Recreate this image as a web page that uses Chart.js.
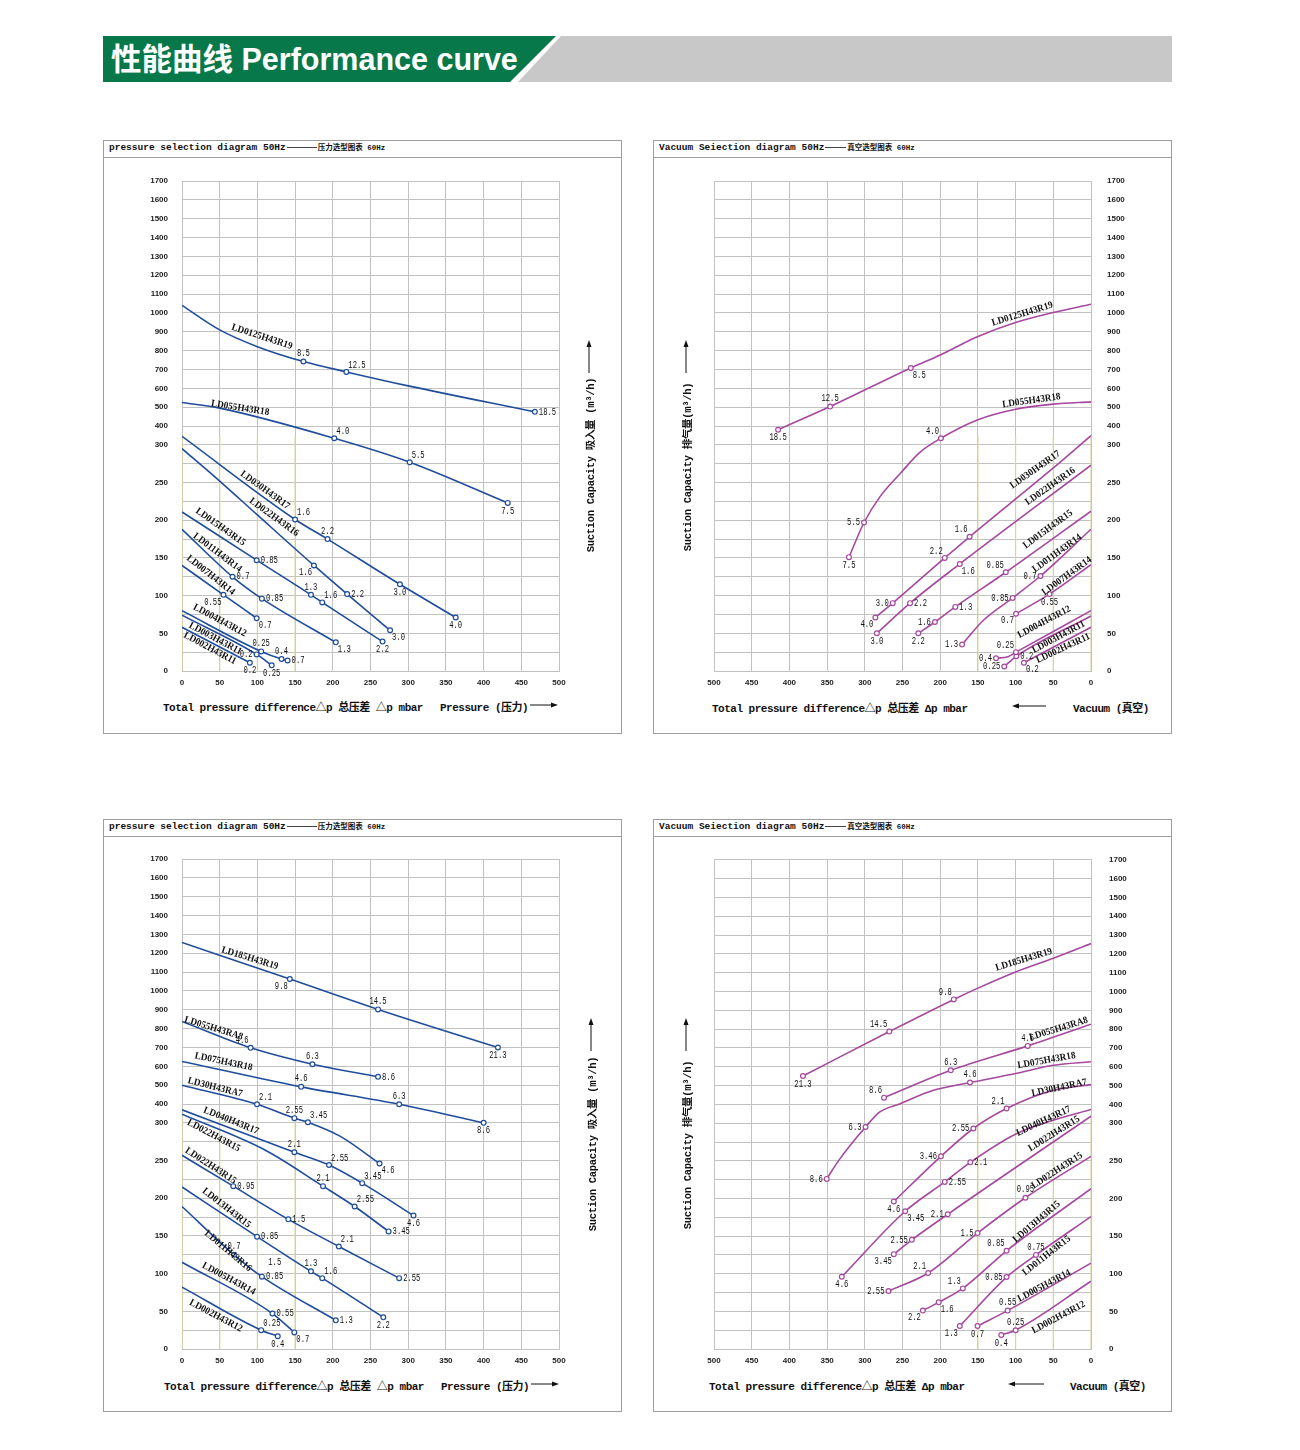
<!DOCTYPE html>
<html lang="zh">
<head>
<meta charset="utf-8">
<title>性能曲线 Performance curve</title>
<script src="https://cdn.jsdelivr.net/npm/chart.js@4"></script>
<style>
  body { margin: 0; background: #fff; }
  #page { position: relative; width: 1300px; height: 1450px; overflow: hidden; color: #111;
          font-family: "Liberation Mono", "Noto Sans CJK SC", monospace; }
  .green { position: absolute; left: 103px; top: 36px; width: 453px; height: 46px; background: #07784a;
           clip-path: polygon(0 0, 100% 0, 407px 100%, 0 100%); }
  .grey { position: absolute; left: 510px; top: 36px; width: 662px; height: 46px; background: #c8c8c8;
          clip-path: polygon(51px 0, 100% 0, 100% 100%, 8px 100%); }
  .banner { position: absolute; left: 111px; top: 35px; line-height: 46px; color: #fff; white-space: nowrap;
            font: bold 30.5px "Liberation Sans", "Noto Sans CJK SC", sans-serif; }
  .panel { position: absolute; width: 519px; height: 594px; box-sizing: border-box; border: 1px solid #9d9d9d; }
  .ptitle { height: 16px; border-bottom: 1px solid #9d9d9d; padding-left: 5px; line-height: 19px; white-space: nowrap;
            overflow: hidden; font: bold 9.5px "Liberation Mono", "Noto Sans CJK SC", monospace; }
  .rule { display: inline-block; width: 30px; border-top: 1px solid #444; vertical-align: middle; margin: 0 1px; }
  .cn { font-size: 7.5px; }
  canvas { position: absolute; }
  .xt { position: absolute; white-space: nowrap; line-height: 14px; letter-spacing: -0.5px;
        font: bold 11px "Liberation Mono", "Noto Sans CJK SC", monospace; }
  .yt { position: absolute; white-space: nowrap; transform: translate(-50%, -50%) rotate(-90deg);
        font: bold 10.5px "Liberation Mono", "Noto Sans CJK SC", monospace; letter-spacing: -0.3px; }
  svg.arr { position: absolute; overflow: visible; }
</style>
</head>
<body>
<div id="page">
  <div class="green"></div>
  <div class="grey"></div>
  <div class="banner">性能曲线 Performance curve</div>

  <div class="panel" style="left:103px;top:140px">
    <div class="ptitle">pressure selection diagram 50Hz<span class="rule"></span><span class="cn">压力选型图表 60Hz</span></div>
  </div>
  <div class="panel" style="left:653px;top:140px">
    <div class="ptitle">Vacuum Seiection diagram 50Hz<span class="rule" style="width:21px"></span><span class="cn">真空选型图表 60Hz</span></div>
  </div>
  <div class="panel" style="left:103px;top:819px;height:593px">
    <div class="ptitle">pressure selection diagram 50Hz<span class="rule"></span><span class="cn">压力选型图表 60Hz</span></div>
  </div>
  <div class="panel" style="left:653px;top:819px;height:593px">
    <div class="ptitle">Vacuum Seiection diagram 50Hz<span class="rule" style="width:21px"></span><span class="cn">真空选型图表 60Hz</span></div>
  </div>

  <canvas id="tl" width="516" height="540" style="left:104px;top:158px"></canvas>
  <canvas id="tr" width="516" height="540" style="left:654px;top:158px"></canvas>
  <canvas id="bl" width="516" height="540" style="left:104px;top:837px"></canvas>
  <canvas id="br" width="516" height="540" style="left:654px;top:837px"></canvas>

  <!-- axis titles -->
  <div class="xt" style="left:163px;top:698px">Total pressure difference△p 总压差  △p mbar</div>
  <div class="xt" style="left:440px;top:698px">Pressure (压力)</div>
  <svg class="arr" style="left:530px;top:701px" width="28" height="8"><line x1="0" y1="4" x2="22" y2="4" stroke="#111" stroke-width="1"/><polygon points="28,4 21,1.5 21,6.5" fill="#111"/></svg>

  <div class="xt" style="left:712px;top:699px">Total pressure difference△p 总压差  Δp mbar</div>
  <svg class="arr" style="left:1012px;top:702px" width="34" height="8"><line x1="6" y1="4" x2="34" y2="4" stroke="#111" stroke-width="1"/><polygon points="0,4 7,1.5 7,6.5" fill="#111"/></svg>
  <div class="xt" style="left:1073px;top:699px">Vacuum (真空)</div>

  <div class="xt" style="left:164px;top:1377px">Total pressure difference△p 总压差  △p mbar</div>
  <div class="xt" style="left:441px;top:1377px">Pressure (压力)</div>
  <svg class="arr" style="left:531px;top:1380px" width="28" height="8"><line x1="0" y1="4" x2="22" y2="4" stroke="#111" stroke-width="1"/><polygon points="28,4 21,1.5 21,6.5" fill="#111"/></svg>

  <div class="xt" style="left:709px;top:1377px">Total pressure difference△p 总压差  Δp mbar</div>
  <svg class="arr" style="left:1008px;top:1380px" width="36" height="8"><line x1="6" y1="4" x2="36" y2="4" stroke="#111" stroke-width="1"/><polygon points="0,4 7,1.5 7,6.5" fill="#111"/></svg>
  <div class="xt" style="left:1070px;top:1377px">Vacuum (真空)</div>

  <div class="yt" style="left:589px;top:465px">Suction Capacity 吸入量 (m³/h)</div>
  <svg class="arr" style="left:585px;top:340px" width="8" height="33"><line x1="4" y1="6" x2="4" y2="33" stroke="#111" stroke-width="1"/><polygon points="4,0 1.5,7 6.5,7" fill="#111"/></svg>
  <div class="yt" style="left:686px;top:467px">Suction Capacity 排气量(m³/h)</div>
  <svg class="arr" style="left:682px;top:340px" width="8" height="33"><line x1="4" y1="6" x2="4" y2="33" stroke="#111" stroke-width="1"/><polygon points="4,0 1.5,7 6.5,7" fill="#111"/></svg>
  <div class="yt" style="left:591px;top:1144px">Suction Capacity 吸入量 (m³/h)</div>
  <svg class="arr" style="left:587px;top:1018px" width="8" height="33"><line x1="4" y1="6" x2="4" y2="33" stroke="#111" stroke-width="1"/><polygon points="4,0 1.5,7 6.5,7" fill="#111"/></svg>
  <div class="yt" style="left:686px;top:1145px">Suction Capacity 排气量(m³/h)</div>
  <svg class="arr" style="left:682px;top:1018px" width="8" height="33"><line x1="4" y1="6" x2="4" y2="33" stroke="#111" stroke-width="1"/><polygon points="4,0 1.5,7 6.5,7" fill="#111"/></svg>
</div>

<script>
// y axis is split: 0-300 in steps of 25 per grid row, 300-1700 in steps of 100
const yTickLabels = ['0', '', '50', '', '100', '', '150', '', '200', '', '250', '', '300',
    '400', '500', '600', '700', '800', '900', '1000', '1100', '1200', '1300', '1400', '1500', '1600', '1700'];
const guideX = [0, 50, 100, 150];   // yellowish grid lines in the low range
const guideTop = 350;

// ---- pressure 50Hz (top left): [mbar, m3/h, kW label]
const tlNames = ['LD0125H43R19', 'LD055H43R18', 'LD030H43R17', 'LD022H43R16', 'LD015H43R15',
    'LD011H43R14', 'LD007H43R14', 'LD004H43R12', 'LD003H43R11', 'LD002H43R11'];
const tlCurves = [
    [[0, 1040], [50, 910], [100, 821], [161, 742, '8.5'], [218, 687, '12.5'], [300, 613], [468, 475, '18.5']],
    [[0, 525], [50, 495], [202, 335, '4.0'], [302, 277, '5.5'], [432, 223, '7.5']],
    [[0, 345], [150, 201, '1.6'], [193, 175, '2.2'], [289, 115, '3.0'], [363, 71, '4.0']],
    [[0, 295], [50, 252], [100, 207], [175, 140, '1.6'], [219, 102, '2.2'], [276, 54, '3.0']],
    [[0, 211], [99, 147, '0.85'], [171, 101, '1.3'], [186, 91, '1.6'], [266, 39, '2.2']],
    [[0, 188], [67, 125, '0.7'], [106, 96, '0.85'], [204, 38, '1.3']],
    [[0, 140], [55, 101, '0.55'], [99, 70, '0.7']],
    [[0, 80], [105, 26, '0.25'], [132, 16, '0.4'], [140, 14, '0.7']],
    [[0, 74], [99, 22, '0.2'], [119, 7.5, '0.25']],
    [[0, 58], [90, 11, '0.2']]
];

// ---- vacuum 50Hz (top right)
const trNames = tlNames.slice();
const trCurves = [
    [[415, 380, '18.5'], [346, 503, '12.5'], [239, 708, '8.5'], [200, 777], [150, 875], [100, 949], [50, 1002], [0, 1046]],
    [[321, 151, '7.5'], [301, 197, '5.5'], [280, 231], [253, 262], [227, 290], [199, 335, '4.0'], [150, 433], [100, 489], [50, 516], [0, 528]],
    [[286, 71, '4.0'], [263, 90, '3.0'], [194, 150, '2.2'], [161, 178, '1.6'], [54, 266], [0, 349]],
    [[284, 50, '3.0'], [240, 90, '2.2'], [174, 142, '1.6'], [0, 273]],
    [[229, 50, '2.2'], [207, 65, '1.6'], [180, 85, '1.3'], [113, 131, '0.85'], [0, 212]],
    [[171, 35, '1.3'], [143, 67], [104, 97, '0.85'], [67, 126, '0.7'], [0, 188]],
    [[99.5, 76, '0.7'], [55, 102, '0.55'], [0, 141]],
    [[126, 17, '0.4'], [110, 19], [99.5, 25, '0.25'], [0, 80]],
    [[115, 6, '0.25'], [99, 19.5, '0.2'], [0, 73]],
    [[89, 11, '0.2'], [0, 58]]
];

// ---- pressure 50Hz (bottom left)
const blNames = ['LD185H43R19', 'LD055H43RA8', 'LD075H43R18', 'LD30H43RA7', 'LD040H43R17', 'LD022H43R15',
    'LD022H43R15', 'LD013H43R15', 'LD011H43R16', 'LD005H43R14', 'LD002H43R12'];
const blCurves = [
    [[0, 1257], [143, 1063, '9.8'], [260, 902, '14.5'], [419, 700, '21.3']],
    [[0, 838], [91, 698, '4.6'], [173, 611, '6.3'], [260, 544, '8.6']],
    [[0, 626], [158, 491, '4.6'], [288, 399, '6.3'], [400, 300, '8.6']],
    [[0, 500], [99.5, 399, '2.1'], [149, 325, '2.55'], [167, 303, '3.45'], [210, 282], [262, 246, '4.6']],
    [[0, 369], [149, 261, '2.1'], [195, 244, '2.55'], [239, 220, '3.45'], [307, 177, '4.6']],
    [[0, 346], [110, 264], [187, 216, '2.1'], [229, 189, '2.55'], [274, 156, '3.45']],
    [[0, 257], [68, 216, '0.95'], [141, 172, '1.5'], [208, 136, '2.1'], [288, 94, '2.55']],
    [[0, 215], [99.5, 149, '0.85'], [171, 103, '1.3'], [186, 94, '1.6'], [267, 42, '2.2']],
    [[0, 189], [69, 125, '0.7'], [106, 96, '0.85'], [204, 38, '1.3']],
    [[0, 115], [120, 47, '0.55'], [149, 22, '0.7']],
    [[0, 82], [105, 25, '0.25'], [127, 17, '0.4']]
];
const blNotes = [[123, 115, '1.5']];

// ---- vacuum 50Hz (bottom right)
const brNames = ['LD185H43R19', 'LD055H43RA8', 'LD075H43R18', 'LD30H43RA7', 'LD040H43R17', 'LD022H43R15',
    'LD022H43R15', 'LD013H43R15', 'LD011H43R15', 'LD005H43R14', 'LD002H43R12'];
const brCurves = [
    [[382, 551, '21.3'], [267.5, 787, '14.5'], [182, 958, '9.8'], [150, 1018], [100, 1104], [50, 1177], [0, 1255]],
    [[274.5, 436, '8.6'], [186, 581, '6.3'], [84, 711, '4.6'], [0, 826]],
    [[350.5, 226, '8.6'], [335, 250], [299, 295, '6.3'], [280, 360], [253, 404], [209, 475], [160.5, 516, '4.6'], [100, 564], [50, 608], [0, 627]],
    [[261.5, 196, '4.6'], [199, 256, '3.46'], [156, 293, '2.55'], [112, 378, '2.1'], [50, 475], [0, 505]],
    [[330.5, 96, '4.6'], [246.5, 183, '3.45'], [194, 222, '2.55'], [160, 248, '2.1'], [99, 286], [50, 316], [0, 373]],
    [[261.5, 126, '3.45'], [237.6, 145, '2.55'], [190, 179, '2.1'], [0, 337]],
    [[268.6, 77, '2.55'], [216, 101, '2.1'], [150.5, 154, '1.5'], [87, 201, '0.95'], [0, 256]],
    [[223, 51, '2.2'], [202, 62, '1.6'], [170, 80.5, '1.3'], [112, 130.5, '0.85'], [0, 213]],
    [[174, 30.5, '1.3'], [112, 95.6, '0.85'], [73, 125, '0.75'], [0, 176]],
    [[150.5, 30.5, '0.7'], [110.6, 51, '0.55'], [0, 114]],
    [[119, 18.6, '0.4'], [100, 25, '0.25'], [0, 90]]
];

// label placement: which side of each marked point its number sits on
const tlTags = [['n', 'ne', 'e'], ['ne', 'ne', 's'], ['ne', 'n', 's', 's'], ['sw', 'e', 'se'], ['e', 'n', 'ne', 's'],
    ['e', 'e', 'se'], ['sw', 'se'], ['n', 'n', 'e'], ['w', 's'], ['s']];
const trTags = [['s', 'n', 'se'], ['s', 'w', 'nw'], ['sw', 'w', 'nw', 'nw'], ['s', 'e', 'se'], ['s', 'w', 'e', 'nw'],
    ['w', 'w', 'w'], ['sw', 's'], ['w', 'nw'], ['w', 'e'], ['se']];
const blTags = [['sw', 'n', 's'], ['nw', 'n', 'e'], ['n', 'n', 's'], ['ne', 'n', 'ne', 'se'], ['n', 'ne', 'ne', 's'],
    ['n', 'ne', 'e'], ['e', 'e', 'ne', 'e'], ['e', 'n', 'ne', 's'], ['n', 'e', 'e'], ['e', 'se'], ['ne', 's']];
const brTags = [['s', 'nw', 'nw'], ['nw', 'n', 'n'], ['w', 'w', 'n'], ['s', 'w', 'w', 'nw'], ['s', 'se', 'e', 'e'],
    ['sw', 'w', 'w'], ['w', 'nw', 'w', 'n'], ['sw', 'se', 'nw', 'nw'], ['sw', 'w', 'n'], ['s', 'n'], ['s', 'n']];

// model name label centres [mbar, m3/h, angle deg]
const tlSpots = [[106, 873, 18], [77, 495, 9], [110, 240, 36], [122, 204, 36], [51, 191, 35],
    [47, 157, 37], [38, 127, 38], [50, 67, 28], [44, 43, 28], [37, 30, 28]];
const trSpots = [[91, 994, -17], [79, 534, -8], [74, 267, -35], [54, 245, -35], [57, 188, -36],
    [45, 156, -36], [32, 126, -36], [62, 65, -28], [43, 45, -28], [37, 30, -25]];
const blSpots = [[90, 1173, 17], [42, 801, 17], [55, 624, 12], [44, 488, 14], [65, 311, 22], [42, 283, 28],
    [38, 243, 33], [59, 187, 38], [61, 130, 40], [62, 93, 28], [45, 44, 28]];
const brSpots = [[89, 1169, -17], [43, 801, -17], [59, 633, -10], [42, 488, -12], [63, 311, -25], [49, 286, -32],
    [45, 237, -33], [72, 169, -40], [59, 124, -38], [62, 84, -28], [43, 42, -28]];

function toAxis(v) {
    return v <= 300 ? v / 25 : 12 + (v - 300) / 100;
}

const SIDES = {
    n: [0, -3, 'center', 'bottom'], s: [0, 3, 'center', 'top'],
    e: [4, 0, 'left', 'middle'], w: [-4, 0, 'right', 'middle'],
    ne: [2, -2, 'left', 'bottom'], nw: [-2, -2, 'right', 'bottom'],
    se: [2, 2, 'left', 'top'], sw: [-2, 2, 'right', 'top']
};
const NUM_FONT = '10px "Liberation Mono"';
const NAME_FONT = 'bold 10px "Liberation Serif"';

function say(ctx, txt, x, y, align, base, font, sx, deg) {
    ctx.save();
    ctx.translate(x, y);
    ctx.rotate(deg * Math.PI / 180);
    ctx.scale(sx, 1);
    ctx.font = font;
    ctx.textAlign = align;
    ctx.textBaseline = base;
    ctx.fillText(txt, 0, 0);
    ctx.restore();
}

const curveText = {
    id: 'curveText',
    afterDatasetsDraw(chart, args, o) {
        const ctx = chart.ctx, xs = chart.scales.x, ys = chart.scales.y;
        const px = v => xs.getPixelForValue(v);
        const py = v => ys.getPixelForValue(toAxis(v));
        ctx.save();
        ctx.fillStyle = '#111';
        o.curves.forEach((pts, i) => {
            let k = 0;
            pts.forEach(p => {
                if (p[2] === undefined) return;
                const s = SIDES[o.tags[i][k++] || 'e'];
                say(ctx, p[2], px(p[0]) + s[0], py(p[1]) + s[1], s[2], s[3], NUM_FONT, 0.72, 0);
            });
        });
        o.names.forEach((n, i) => {
            const sp = o.spots[i];
            say(ctx, n, px(sp[0]), py(sp[1]), 'center', 'middle', NAME_FONT, 0.92, sp[2]);
        });
        (o.notes || []).forEach(t => say(ctx, t[2], px(t[0]), py(t[1]), 'center', 'middle', NUM_FONT, 0.72, 0));
        ctx.restore();
    }
};

function buildSets(curves, color) {
    const sets = curves.map(pts => {
        const sorted = pts.slice().sort((a, b) => a[0] - b[0]);
        return {
            data: sorted.map(p => ({ x: p[0], y: toAxis(p[1]) })),
            borderColor: color,
            borderWidth: 1.6,
            pointRadius: sorted.map(p => p[2] ? 2.4 : 0),
            pointBackgroundColor: '#fff',
            pointBorderColor: color,
            pointBorderWidth: 1.2,
            cubicInterpolationMode: 'monotone',
            fill: false,
            order: 1
        };
    });
    guideX.forEach(x => sets.push({
        data: [{ x, y: 0 }, { x, y: toAxis(guideTop) }],
        borderColor: '#d8d59a', borderWidth: 1.2, pointRadius: 0, order: 9
    }));
    return sets;
}

function drawPanel(id, p) {
    const tickFont = { family: 'Liberation Sans', size: 8, weight: 'bold' };
    new Chart(document.getElementById(id), {
        type: 'line',
        data: { datasets: buildSets(p.curves, p.color) },
        plugins: [curveText],
        options: {
            responsive: false,
            animation: false,
            events: [],
            layout: {
                padding: p.vacuum
                    ? { left: 60, right: 0, top: p.top, bottom: 0 }
                    : { left: 0, right: 61, top: p.top, bottom: 0 }
            },
            plugins: {
                legend: { display: false },
                tooltip: { enabled: false },
                curveText: { curves: p.curves, names: p.names, tags: p.tags, spots: p.spots, notes: p.notes }
            },
            scales: {
                x: {
                    type: 'linear', min: 0, max: 500, reverse: p.vacuum,
                    ticks: { stepSize: 50, autoSkip: false, maxRotation: 0, padding: 7, color: '#222', font: tickFont },
                    grid: { color: '#c2c2c2', lineWidth: 1, drawTicks: false },
                    border: { color: '#c2c2c2' },
                    afterFit: s => { s.height = 540 - p.top - 490; }
                },
                y: {
                    type: 'linear', min: 0, max: 26, position: p.vacuum ? 'right' : 'left',
                    ticks: {
                        stepSize: 1, autoSkip: false, padding: p.yPad, color: '#222', font: tickFont,
                        callback: v => yTickLabels[Math.round(v)]
                    },
                    grid: { color: '#c2c2c2', lineWidth: 1, drawTicks: false },
                    border: { color: '#c2c2c2' },
                    afterFit: s => { s.width = p.vacuum ? 79 : 78; }
                }
            }
        }
    });
}

const BLUE = '#1f4d9b';
const PURPLE = '#a6489f';

drawPanel('tl', { curves: tlCurves, names: tlNames, tags: tlTags, spots: tlSpots, color: BLUE, vacuum: false, top: 23, yPad: 14 });
drawPanel('tr', { curves: trCurves, names: trNames, tags: trTags, spots: trSpots, color: PURPLE, vacuum: true, top: 23, yPad: 16 });
drawPanel('bl', { curves: blCurves, names: blNames, tags: blTags, spots: blSpots, notes: blNotes, color: BLUE, vacuum: false, top: 22, yPad: 14 });
drawPanel('br', { curves: brCurves, names: brNames, tags: brTags, spots: brSpots, color: PURPLE, vacuum: true, top: 22, yPad: 18 });
</script>
</body>
</html>
